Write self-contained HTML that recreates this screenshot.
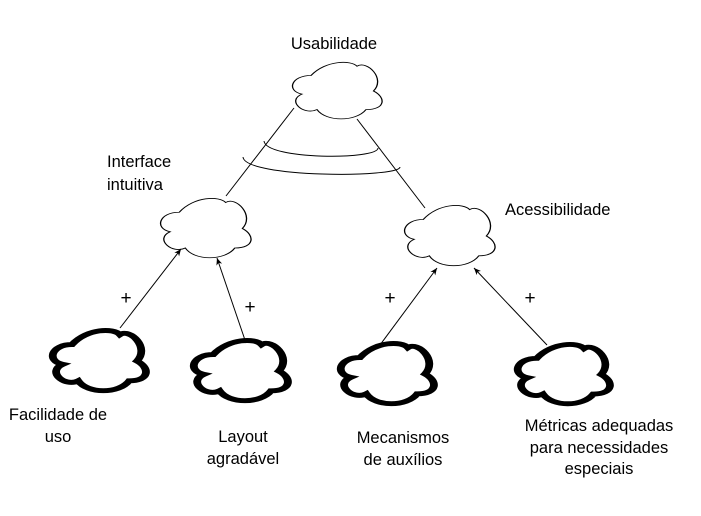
<!DOCTYPE html>
<html><head><meta charset="utf-8"><style>
html,body{margin:0;padding:0;background:#fff;width:701px;height:516px;overflow:hidden}
svg text{font-family:"Liberation Sans",sans-serif;font-size:16.5px;fill:#000}
</style></head><body>
<svg width="701" height="516" viewBox="0 0 701 516" xmlns="http://www.w3.org/2000/svg">
<defs>
<path id="c" d="M0.25 0.25 C0.05 0.25 0 0.5 0.16 0.55 C0 0.66 0.18 0.9 0.31 0.8 C0.4 1 0.7 1 0.8 0.8 C1 0.8 1 0.6 0.875 0.5 C1 0.3 0.81 0 0.71 0.1 C0.65 0 0.4 0 0.25 0.25 Z"/>
<marker id="a" markerWidth="8" markerHeight="8" refX="7" refY="4" orient="auto" markerUnits="userSpaceOnUse"><path d="M0 1 L7 4 L0 7 L2 4 Z" fill="#000"/></marker>
</defs>
<g fill="#fff" stroke="#000">
<g transform="translate(286,60) scale(100,62)"><use href="#c" stroke-width="0.013"/></g>
<g transform="translate(154,196) scale(101,65)"><use href="#c" stroke-width="0.013"/></g>
<g transform="translate(398,203) scale(101,66)"><use href="#c" stroke-width="0.013"/></g>
<g transform="translate(46,328) scale(104,66)"><use href="#c" stroke-width="0.075"/></g>
<g transform="translate(187,338) scale(105,66)"><use href="#c" stroke-width="0.075"/></g>
<g transform="translate(334,341) scale(104,66)"><use href="#c" stroke-width="0.075"/></g>
<g transform="translate(511,342) scale(103,65)"><use href="#c" stroke-width="0.075"/></g>
</g>
<g stroke="#000" stroke-width="1" fill="none">
<line x1="294" y1="108" x2="226" y2="196"/>
<line x1="357" y1="119" x2="425" y2="208"/>
<path d="M264 141 C266 160 378 160 378 148"/>
<path d="M243 157 C245 178 400 178 400 167"/>
<line x1="120" y1="328" x2="181" y2="249" marker-end="url(#a)"/>
<line x1="246" y1="343" x2="217" y2="258" marker-end="url(#a)"/>
<line x1="380" y1="345" x2="437" y2="268" marker-end="url(#a)"/>
<line x1="547" y1="345" x2="474" y2="268" marker-end="url(#a)"/>
</g>
<text x="334" y="49" text-anchor="middle">Usabilidade</text>
<text x="107" y="167">Interface</text>
<text x="107" y="190">intuitiva</text>
<text x="505" y="215">Acessibilidade</text>
<text x="126" y="304" text-anchor="middle" style="font-size:19px">+</text>
<text x="250" y="313" text-anchor="middle" style="font-size:19px">+</text>
<text x="390" y="304" text-anchor="middle" style="font-size:19px">+</text>
<text x="530" y="304" text-anchor="middle" style="font-size:19px">+</text>
<text x="58" y="420" text-anchor="middle">Facilidade de</text>
<text x="58" y="442" text-anchor="middle">uso</text>
<text x="243" y="442" text-anchor="middle">Layout</text>
<text x="243" y="464" text-anchor="middle">agradável</text>
<text x="403" y="443" text-anchor="middle">Mecanismos</text>
<text x="403" y="465" text-anchor="middle">de auxílios</text>
<text x="599" y="431" text-anchor="middle">Métricas adequadas</text>
<text x="599" y="453" text-anchor="middle">para necessidades</text>
<text x="599" y="474" text-anchor="middle">especiais</text>
</svg>
</body></html>
